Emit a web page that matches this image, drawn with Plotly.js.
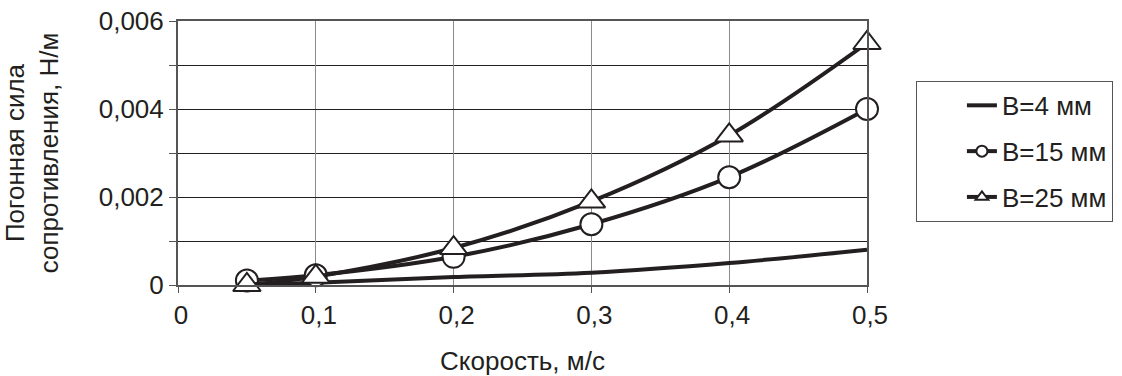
<!DOCTYPE html>
<html>
<head>
<meta charset="utf-8">
<script src="https://cdn.plot.ly/plotly-3.0.1.min.js"></script>
<style>html,body{margin:0;padding:0;background:#fff;}#chart{width:1122px;height:376px;}</style>
</head>
<body>
<div id="chart"></div>
<script>
// Data
var speed = [0.05, 0.1, 0.2, 0.3, 0.4, 0.5];
var forceB4 = [0.0, 0.00005, 0.00018, 0.00028, 0.0005, 0.0008];
var forceB15 = [0.0001, 0.00022, 0.00064, 0.00138, 0.00245, 0.004];
var forceB25 = [0.0, 0.00019, 0.00084, 0.0019, 0.0034, 0.0055];
var seriesNames = ['B=4 мм', 'B=15 мм', 'B=25 мм'];
var xTitle = 'Скорость, м/с';
var yTitle = 'Погонная сила<br>сопротивления, Н/м';

var ink = '#231f20';
var font = 'Liberation Sans, Arial, Helvetica, sans-serif';
var fs = 26;

function main(name, y, symbol, size) {
  var t = {
    x: speed, y: y, name: name, showlegend: false, cliponaxis: false,
    type: 'scatter', mode: symbol ? 'lines+markers' : 'lines',
    line: {color: ink, width: 4, shape: 'spline', smoothing: 1}
  };
  if (symbol) t.marker = {symbol: symbol, size: size, color: '#fff', line: {color: ink, width: 2}};
  return t;
}
function leg(name, symbol, group) {
  var t = {
    x: [null], y: [null], name: name, legendgroup: group, showlegend: true,
    type: 'scatter', mode: symbol ? 'lines+markers' : 'lines',
    line: {color: ink, width: 4}
  };
  if (symbol) t.marker = {symbol: symbol, size: 11, color: '#fff', line: {color: ink, width: 2}};
  return t;
}

var data = [
  main(seriesNames[0], forceB4, null),
  main(seriesNames[1], forceB15, 'circle', 22),
  main(seriesNames[2], forceB25, 'triangle-up', 24),
  leg(seriesNames[0], null, 'a'),
  leg(seriesNames[1], 'circle', 'b'),
  leg(seriesNames[2], 'triangle-up', 'c')
];

var layout = {
  width: 1122, height: 376,
  margin: {l: 178, r: 255, t: 21, b: 91, autoexpand: false},
  paper_bgcolor: '#fff', plot_bgcolor: '#fff',
  separators: ', ',
  font: {family: font, color: ink, size: fs},
  showlegend: true,
  legend: {
    x: 1.071, xanchor: 'left', y: 0.773, yanchor: 'top',
    bordercolor: '#555', borderwidth: 1, bgcolor: '#fff',
    font: {family: font, size: fs, color: ink},
    tracegroupgap: 9, traceorder: 'grouped', indentation: 45
  },
  xaxis: {
    range: [0, 0.5], dtick: 0.1, tick0: 0,
    showgrid: true, gridcolor: '#8c8c8c', gridwidth: 1.3,
    zeroline: false, showline: true, linecolor: '#555', linewidth: 2, mirror: true,
    ticks: 'outside', ticklen: 6, tickcolor: '#555', tickwidth: 1,
    tickfont: {family: font, size: fs, color: ink}, ticklabelshift: 3,
    title: {text: xTitle, font: {family: font, size: fs, color: ink}, standoff: 23}
  },
  yaxis: {
    range: [0, 0.006], dtick: 0.002, tick0: 0,
    showgrid: true, gridcolor: ink, gridwidth: 1,
    minor: {dtick: 0.001, showgrid: true, gridcolor: ink, gridwidth: 1, ticks: 'outside', ticklen: 7, tickcolor: '#555'},
    zeroline: false, showline: true, linecolor: '#555', linewidth: 2, mirror: true,
    ticks: 'outside', ticklen: 7, tickcolor: '#555', tickwidth: 1,
    tickfont: {family: font, size: fs, color: ink},
    title: {text: yTitle, font: {family: font, size: fs, color: ink}, standoff: 34}
  }
};

Plotly.newPlot('chart', data, layout, {displayModeBar: false, staticPlot: true});
</script>
</body>
</html>
